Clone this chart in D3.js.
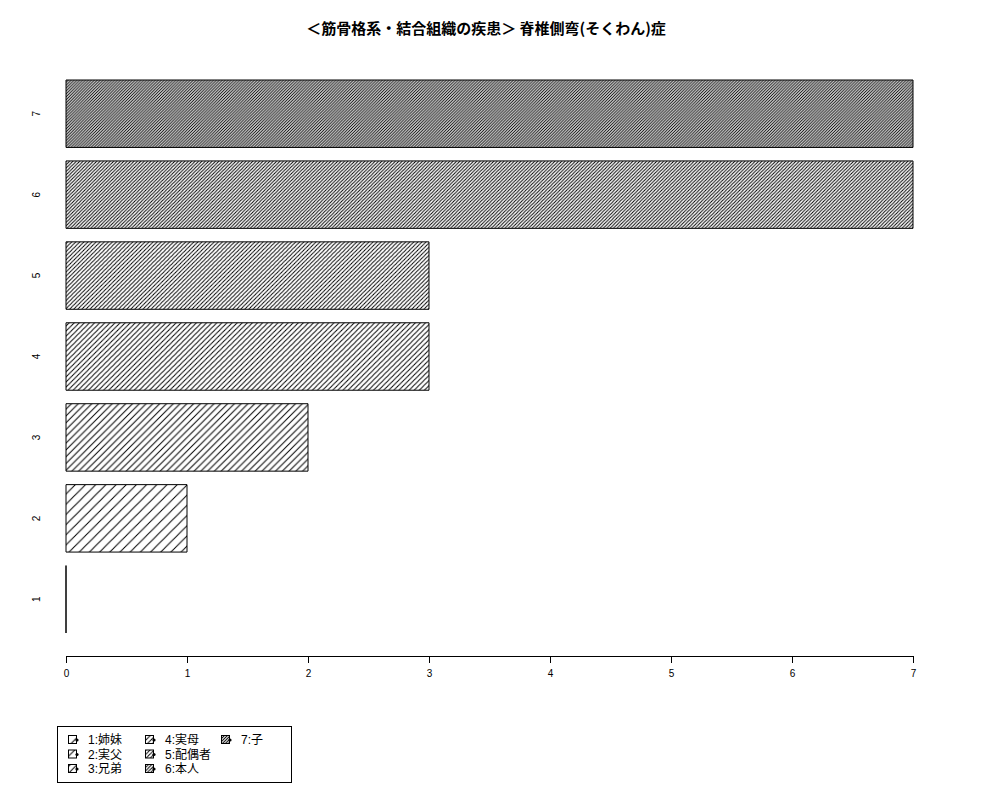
<!DOCTYPE html>
<html><head><meta charset="utf-8">
<script src="https://cdn.jsdelivr.net/npm/d3@7"></script>
<style>body{margin:0;background:#fff}</style>
</head><body>
<script>
const categories = ["1","2","3","4","5","6","7"];
const values = [0,1,2,3,3,7,7];
const legendLabels = ["1:姉妹","2:実父","3:兄弟","4:実母","5:配偶者","6:本人","7:子"];
const densities = [5,10,15,20,25,30,35];
const xTicks = [0,1,2,3,4,5,6,7];
const titleText = "＜筋骨格系・結合組織の疾患＞ 脊椎側弯(そくわん)症";

const W = 1000, H = 800;
const svg = d3.select("body").append("svg").attr("width", W).attr("height", H)
  .style("font-family", "'Liberation Sans', Arial, sans-serif");

const x = d3.scaleLinear().domain([0, 7]).range([66, 913]);
const y = d3.scaleLinear().domain([0.2, 8.4]).range([633, 80]);

const defs = svg.append("defs");
densities.forEach((d, i) => {
  const s = 72 / d * Math.SQRT2;
  const p = defs.append("pattern").attr("id", "h" + i)
    .attr("patternUnits", "userSpaceOnUse").attr("width", s).attr("height", s);
  p.append("rect").attr("width", s).attr("height", s).attr("fill", "#fff");
  p.append("path")
    .attr("d", `M0,${s} L${s},0 M${-s/2},${s/2} L${s/2},${-s/2} M${s/2},${s*1.5} L${s*1.5},${s/2}`)
    .attr("stroke", "#000").attr("stroke-width", 1);
});

// bars (drawn as closed paths so zero-length bars still show their outline)
const data = categories.map((c, i) => ({c, v: values[i], i}));
svg.append("g").selectAll("path").data(data).join("path")
  .attr("d", d => {
    const x0 = x(0), x1 = x(d.v), y0 = y(d.i * 1.2 + 0.2), y1 = y(d.i * 1.2 + 1.2);
    return `M${x0},${y0}L${x1},${y0}L${x1},${y1}L${x0},${y1}Z`;
  })
  .attr("fill", d => `url(#h${d.i})`)
  .attr("stroke", "#000").attr("stroke-width", 1);

// y labels
svg.append("g").selectAll("text").data(data).join("text")
  .attr("transform", d => `translate(40,${y(d.i * 1.2 + 0.7)}) rotate(-90)`)
  .attr("text-anchor", "middle")
  .attr("font-size", 10)
  .text(d => d.c);

// x axis
const xAxis = d3.axisBottom(x).tickValues(xTicks).tickFormat(d3.format("d")).tickSize(7).tickPadding(7);
const gx = svg.append("g").attr("transform", "translate(0,656)").call(xAxis);
gx.select(".domain").attr("d", `M${x(0)},0.5H${x(7)}`).attr("stroke", "#000");
gx.selectAll("text").attr("font-size", 10).attr("font-family", "'Liberation Sans', Arial, sans-serif").attr("fill", "#000");

// title
svg.append("text").attr("x", 486).attr("y", 34).attr("text-anchor", "middle")
  .attr("font-family", "'Noto Sans CJK JP', sans-serif").attr("font-weight", "bold")
  .attr("font-size", 15).text(titleText);

// legend
const lg = svg.append("g");
lg.append("rect").attr("x", 57.5).attr("y", 726.5).attr("width", 234).attr("height", 56)
  .attr("fill", "#fff").attr("stroke", "#000");
const colX = [68, 145, 221];
legendLabels.forEach((lab, i) => {
  const col = Math.floor(i / 3), row = i % 3;
  const bx = colX[col], by = 735 + row * 14.5;
  lg.append("rect").attr("x", bx + 0.5).attr("y", by + 0.5).attr("width", 8).attr("height", 8)
    .attr("fill", `url(#h${i})`).attr("stroke", "#000").attr("stroke-width", 1);
  lg.append("circle").attr("cx", bx + 9).attr("cy", by + 5).attr("r", 1.6).attr("fill", "#000");
  lg.append("text").attr("x", bx + 20).attr("y", by + 9)
    .attr("font-family", "'Liberation Sans', 'Noto Sans CJK JP', sans-serif")
    .attr("font-size", 12).text(lab);
});
</script>
</body></html>
